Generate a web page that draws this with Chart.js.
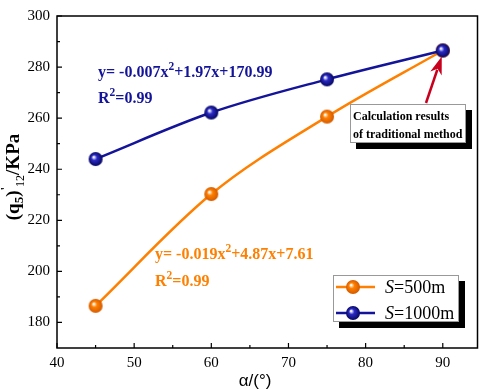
<!DOCTYPE html>
<html>
<head>
<meta charset="utf-8">
<script src="https://cdn.jsdelivr.net/npm/chart.js@4.4.1/dist/chart.umd.min.js"></script>
<style>
    html, body { margin: 0; padding: 0; background: #fff; }
</style>
</head>
<body>
<canvas id="myChart" width="484" height="390"></canvas>
<script>
// Data
const alphaValues = [45, 60, 75, 90];
const s500Values = [186.5, 230.3, 260.6, 286.5];
const s1000Values = [244.0, 262.2, 275.2, 286.5];
const xTickValues = [40, 50, 60, 70, 80, 90];
const xMinorTicks = [45, 55, 65, 75, 85];
const yTickValues = [180, 200, 220, 240, 260, 280, 300];
const yMinorTicks = [190, 210, 230, 250, 270, 290];
const seriesNames = ["=500m", "=1000m"];
const fit500Text = ["y= -0.019x", "2", "+4.87x+7.61"];
const fit1000Text = ["y= -0.007x", "2", "+1.97x+170.99"];
const r2Text = ["R", "2", "=0.99"];
const noteLines = ["Calculation results", "of traditional method"];

const orange = "#ff8000";
const blue = "#14149a";
const serif = "'Liberation Serif', 'Times New Roman', serif";

// Shaded ball marker
function makeBall(color, dark) {
    const r = 7;
    const c = document.createElement("canvas");
    c.width = c.height = 2 * r + 2;
    const g = c.getContext("2d");
    const grad = g.createRadialGradient(r - 1, r - 1, 0.5, r + 1, r + 1, r);
    grad.addColorStop(0, "#ffffff");
    grad.addColorStop(0.35, color);
    grad.addColorStop(1, dark);
    g.fillStyle = grad;
    g.beginPath();
    g.arc(r + 1, r + 1, r, 0, Math.PI * 2);
    g.fill();
    return c;
}
const orangeBall = makeBall(orange, "#d35a00");
const blueBall = makeBall("#2a2ac8", "#06065e");

// Text with superscript / subscript parts
function drawParts(c, x, y, parts, size) {
    parts.forEach((p, i) => {
        const sup = i % 2 === 1;
        c.font = "bold " + (sup ? size * 0.72 : size) + "px " + serif;
        c.fillText(p, x, sup ? y - size * 0.42 : y);
        x += c.measureText(p).width;
    });
}

const decorPlugin = {
    id: "decor",
    afterDraw(chart) {
        const c = chart.ctx;
        const a = chart.chartArea;
        const xs = chart.scales.x;
        const ys = chart.scales.y;
        c.save();

        // Frame
        c.strokeStyle = "#000";
        c.lineWidth = 1.5;
        c.strokeRect(a.left, a.top, a.right - a.left, a.bottom - a.top);

        // Inward ticks
        c.lineWidth = 1.2;
        c.beginPath();
        xTickValues.forEach(v => { const p = xs.getPixelForValue(v); c.moveTo(p, a.bottom); c.lineTo(p, a.bottom - 5); });
        xMinorTicks.forEach(v => { const p = xs.getPixelForValue(v); c.moveTo(p, a.bottom); c.lineTo(p, a.bottom - 3); });
        yTickValues.forEach(v => { const p = ys.getPixelForValue(v); c.moveTo(a.left, p); c.lineTo(a.left + 5, p); });
        yMinorTicks.forEach(v => { const p = ys.getPixelForValue(v); c.moveTo(a.left, p); c.lineTo(a.left + 3, p); });
        c.stroke();

        // Fit equations
        c.textAlign = "left";
        c.textBaseline = "alphabetic";
        c.fillStyle = blue;
        drawParts(c, 98, 77, fit1000Text, 16);
        drawParts(c, 98, 103, r2Text, 16);
        c.fillStyle = orange;
        drawParts(c, 155, 259, fit500Text, 16);
        drawParts(c, 155, 286, r2Text, 16);

        // Arrow to traditional result
        const tx = xs.getPixelForValue(90) - 1;
        const ty = ys.getPixelForValue(s1000Values[3]) + 6;
        const sx = 426, sy = 103;
        const ang = Math.atan2(ty - sy, tx - sx);
        const hl = 18, hw = 6;
        const bx = tx - hl * Math.cos(ang), by = ty - hl * Math.sin(ang);
        c.strokeStyle = "#c8001e";
        c.fillStyle = "#c8001e";
        c.lineWidth = 2.5;
        c.beginPath();
        c.moveTo(sx, sy);
        c.lineTo(bx + 4 * Math.cos(ang), by + 4 * Math.sin(ang));
        c.stroke();
        c.beginPath();
        c.moveTo(tx, ty);
        c.lineTo(bx - hw * Math.sin(ang), by + hw * Math.cos(ang));
        c.lineTo(bx + 5 * Math.cos(ang), by + 5 * Math.sin(ang));
        c.lineTo(bx + hw * Math.sin(ang), by - hw * Math.cos(ang));
        c.closePath();
        c.fill();

        // Note box
        c.fillStyle = "#000";
        c.fillRect(356, 110, 116, 39);
        c.fillStyle = "#fff";
        c.fillRect(350, 104, 116, 39);
        c.strokeStyle = "#999";
        c.lineWidth = 1;
        c.strokeRect(350.5, 104.5, 115, 38);
        c.fillStyle = "#000";
        c.font = "bold 12px " + serif;
        c.fillText(noteLines[0], 353, 120);
        c.fillText(noteLines[1], 353, 138);

        // Legend
        c.fillStyle = "#000";
        c.fillRect(339, 281, 126, 47);
        c.fillStyle = "#fff";
        c.fillRect(333, 275, 126, 47);
        c.strokeStyle = "#999";
        c.strokeRect(333.5, 275.5, 125, 46);
        [[orange, orangeBall, 287], [blue, blueBall, 313]].forEach(([col, ball, ly], i) => {
            c.strokeStyle = col;
            c.lineWidth = 2.5;
            c.beginPath();
            c.moveTo(336, ly);
            c.lineTo(375, ly);
            c.stroke();
            c.drawImage(ball, 353 - 8, ly - 8);
            c.fillStyle = "#000";
            c.font = "italic 18px " + serif;
            c.fillText("S", 385, ly + 6);
            const w = c.measureText("S").width;
            c.font = "18px " + serif;
            c.fillText(seriesNames[i], 385 + w, ly + 6);
        });

        // X title
        c.fillStyle = "#000";
        c.font = "17px 'Liberation Sans', Arial, sans-serif";
        c.textAlign = "center";
        c.fillText("α/(°)", 255, 386);

        // Y title (q5)'12/KPa
        c.translate(19, 177);
        c.rotate(-Math.PI / 2);
        const parts = [["(q", 19, 0, "bold"], ["5", 13, 4, "bold"], [")", 19, 0, "bold"], ["'", 13, -10, "bold"], ["12", 12, 5, ""], ["/KPa", 19, 0, "bold"]];
        let total = 0;
        parts.forEach(p => { c.font = p[3] + " " + p[1] + "px " + serif; total += c.measureText(p[0]).width; });
        let px = -total / 2;
        c.textAlign = "left";
        parts.forEach(p => {
            c.font = p[3] + " " + p[1] + "px " + serif;
            c.fillText(p[0], px, p[2]);
            px += c.measureText(p[0]).width;
        });
        c.restore();
    },
};

const ctx = document.querySelector("#myChart").getContext("2d");

const alphaChart = new Chart(ctx, {
    type: "line",
    data: {
        datasets: [{
            label: "S=500m",
            data: alphaValues.map((x, i) => ({ x, y: s500Values[i] })),
            borderColor: orange,
            borderWidth: 2.5,
            pointStyle: orangeBall,
            cubicInterpolationMode: "monotone",
            order: 1,
        }, {
            label: "S=1000m",
            data: alphaValues.map((x, i) => ({ x, y: s1000Values[i] })),
            borderColor: blue,
            borderWidth: 2.5,
            pointStyle: blueBall,
            cubicInterpolationMode: "monotone",
            order: 0,
        }],
    },
    options: {
        responsive: false,
        animation: false,
        layout: { padding: { top: 5, right: 5, left: 0, bottom: 0 } },
        scales: {
            x: {
                type: "linear",
                min: 40,
                max: 94.5,
                afterBuildTicks: s => { s.ticks = xTickValues.map(v => ({ value: v })); },
                afterFit: s => { s.height = 42; },
                grid: { display: false, drawTicks: false },
                border: { display: false },
                ticks: { color: "#000", padding: 6, font: { family: serif, size: 15 } },
            },
            y: {
                min: 170,
                max: 300,
                afterBuildTicks: s => { s.ticks = yTickValues.map(v => ({ value: v })); },
                afterFit: s => { s.width = 57; },
                grid: { display: false, drawTicks: false },
                border: { display: false },
                ticks: { color: "#000", padding: 7, font: { family: serif, size: 15 } },
            },
        },
        plugins: {
            legend: { display: false },
            tooltip: { enabled: false },
        },
    },
    plugins: [decorPlugin],
});
</script>
</body>
</html>
